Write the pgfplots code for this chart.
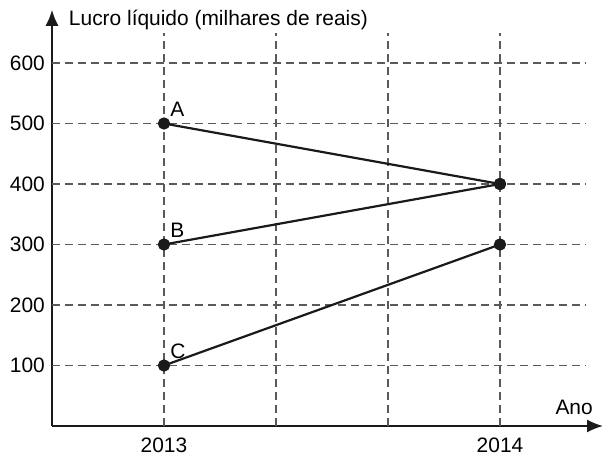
\documentclass[border=0pt]{standalone}
\usepackage{pgfplots}
\pgfplotsset{compat=1.18}
\usepackage{fontspec}
\setmainfont{Liberation Sans}
\usetikzlibrary{arrows.meta}
\definecolor{gridgray}{HTML}{5A5A5A}
\definecolor{lineblack}{HTML}{1A1A1A}
\begin{document}
\fontsize{21}{24}\selectfont
\begin{tikzpicture}[every node/.style={font=\fontsize{21}{24}\selectfont}]
\begin{axis}[
  x=112bp, y=0.605bp,
  xmin=0, xmax=4.92, ymin=0, ymax=688,
  axis lines=left,
  axis line style={line width=1.8bp, draw=lineblack, -{Latex[length=16bp,width=13bp]}},
  xtick={1,4}, xticklabels={2013,2014},
  ytick={100,200,300,400,500,600},
  major tick length=0pt,
  tick style={draw=none},
  yticklabel style={anchor=east, xshift=0bp},
  xticklabel style={anchor=north, yshift=-5bp},
  ticklabel style={font=\fontsize{21}{24}\selectfont},
  /pgf/number format/assume math mode=true,
  /pgf/number format/1000 sep={},
  clip=false,
]
% grid
\foreach \yy in {100,200,300,400,500,600} {
  \edef\tmp{\noexpand\draw[gridgray, line width=1.3bp, dash pattern=on 8bp off 5bp] (axis cs:0,\yy) -- (axis cs:4.77,\yy);}\tmp
}
\foreach \xx in {1,2,3,4} {
  \edef\tmp{\noexpand\draw[gridgray, line width=1.3bp, dash pattern=on 8bp off 5bp] (axis cs:\xx,0) -- (axis cs:\xx,650);}\tmp
}
\addplot[lineblack, line width=2.2bp, mark=*, mark size=5bp, mark options={fill=lineblack, draw=lineblack}] coordinates {(1,500) (4,400)};
\addplot[lineblack, line width=2.2bp, mark=*, mark size=5bp, mark options={fill=lineblack, draw=lineblack}] coordinates {(1,300) (4,400)};
\addplot[lineblack, line width=2.2bp, mark=*, mark size=5bp, mark options={fill=lineblack, draw=lineblack}] coordinates {(1,100) (4,300)};
\node[anchor=base west, inner sep=0pt] at (axis cs:1.055,512) {A};
\node[anchor=base west, inner sep=0pt] at (axis cs:1.055,312) {B};
\node[anchor=base west, inner sep=0pt] at (axis cs:1.055,112) {C};
\node[anchor=base west, inner sep=0pt] at (axis cs:0.15,662) {Lucro líquido (milhares de reais)};
\node[anchor=base east, inner sep=0pt] at (axis cs:4.83,19) {Ano};
\coordinate (O) at (axis cs:0,0);
\end{axis}
\pgfresetboundingbox
\path (O) ++(-52bp,-32bp) rectangle ++(602bp,458bp);
\end{tikzpicture}
\end{document}
